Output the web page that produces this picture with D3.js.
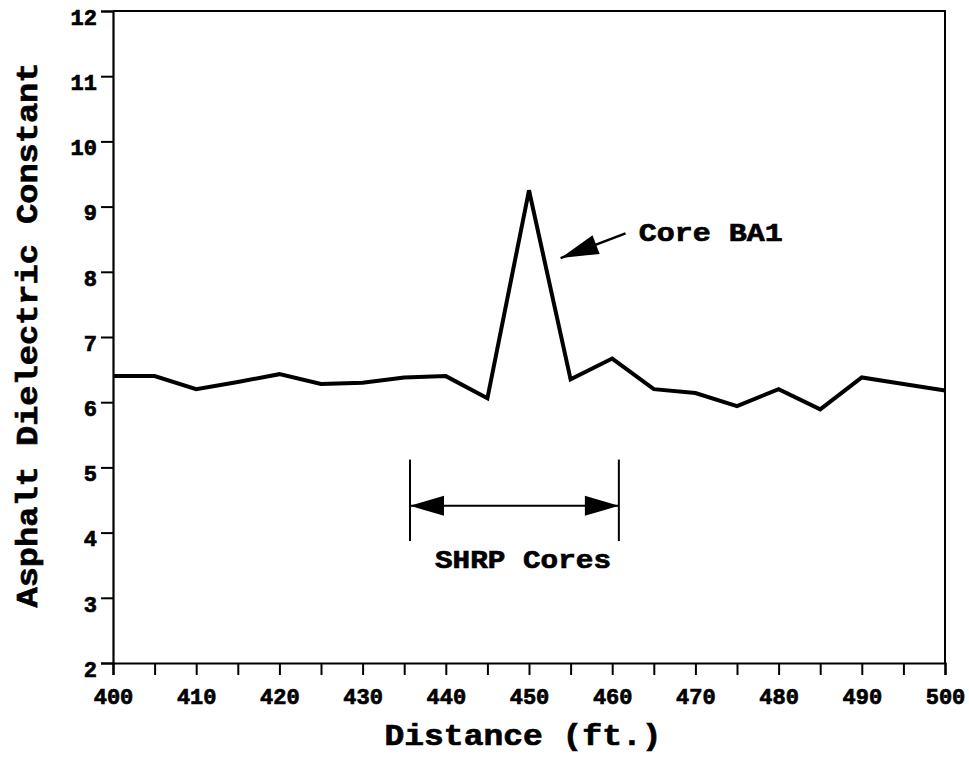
<!DOCTYPE html>
<html>
<head>
<meta charset="utf-8">
<script src="https://cdn.jsdelivr.net/npm/d3@7"></script>
<style>
  html, body { margin: 0; padding: 0; background: #fff; }
  svg { display: block; }
  text { font-family: "Liberation Mono", "DejaVu Sans Mono", monospace; font-weight: bold; fill: #000; stroke: #000; stroke-width: 0.7px; }
</style>
</head>
<body>
<svg id="chart" width="969" height="757"></svg>
<script>
// ---- data ----
const distances = [400, 405, 410, 415, 420, 425, 430, 435, 440, 445, 450, 455, 460, 465, 470, 475, 480, 485, 490, 495, 500];
const dielectric = [6.40, 6.40, 6.20, 6.31, 6.43, 6.28, 6.30, 6.38, 6.40, 6.06, 9.25, 6.35, 6.67, 6.20, 6.14, 5.94, 6.20, 5.89, 6.38, 6.28, 6.18];
const xTicks = [400, 410, 420, 430, 440, 450, 460, 470, 480, 490, 500];
const xMinorTicks = [405, 415, 425, 435, 445, 455, 465, 475, 485, 495];
const yTicks = [2, 3, 4, 5, 6, 7, 8, 9, 10, 11, 12];
const xTitle = "Distance (ft.)";
const yTitle = "Asphalt Dielectric Constant";
const coreLabel = "Core BA1";
const coreArrow = [[461.6, 8.59], [453.8, 8.21]];   // tail -> tip, data units
const coreLabelPos = [463.2, 8.48];
const shrpLabel = "SHRP Cores";
const shrpRange = [435.7, 460.8];
const shrpLevels = { top: 5.12, bottom: 3.87, arrow: 4.41, label: 3.46 };

// ---- layout ----
const svg = d3.select("#chart");
const x = d3.scaleLinear().domain([400, 500]).range([113, 945]);
const y = d3.scaleLinear().domain([2, 12]).range([663, 11]);

// frame (top and right)
svg.append("path")
  .attr("d", `M${x(400)},${y(12)}H${x(500)}V${y(2)}`)
  .attr("fill", "none").attr("stroke", "#000").attr("stroke-width", 2);

// x axis
const xAxis = svg.append("g").attr("transform", `translate(0,${y(2)})`)
  .call(d3.axisBottom(x).tickValues(d3.merge([xTicks, xMinorTicks]).sort(d3.ascending))
    .tickSize(12).tickPadding(9)
    .tickFormat(d => xTicks.includes(d) ? d : ""));
xAxis.select(".domain").attr("stroke-width", 2.2);
xAxis.selectAll(".tick line").attr("stroke-width", 2);
xAxis.selectAll(".tick text").style("font-size", "22px").attr("dy", "0.9em");

// y axis
const yAxis = svg.append("g").attr("transform", `translate(${x(400)},0)`)
  .call(d3.axisLeft(y).tickValues(yTicks).tickSize(12).tickPadding(4));
yAxis.select(".domain").attr("stroke-width", 2.2);
yAxis.selectAll(".tick line").attr("stroke-width", 2);
yAxis.selectAll(".tick text").style("font-size", "22px").attr("dy", "0.6em");

// titles
svg.append("text").attr("x", (x(400) + x(500)) / 2 - 6).attr("y", 745)
  .attr("text-anchor", "middle").style("font-size", "30px")
  .attr("textLength", 277).attr("lengthAdjust", "spacingAndGlyphs")
  .text(xTitle);
svg.append("text")
  .attr("transform", `translate(37,${(y(12) + y(2)) / 2 - 2}) rotate(-90)`)
  .attr("text-anchor", "middle").style("font-size", "30px")
  .attr("textLength", 545).attr("lengthAdjust", "spacingAndGlyphs")
  .text(yTitle);

// data line
const line = d3.line().x((d, i) => x(distances[i])).y(d => y(d));
svg.append("path").datum(dielectric)
  .attr("d", line)
  .attr("fill", "none").attr("stroke", "#000").attr("stroke-width", 4)
  .attr("stroke-linejoin", "miter");

// arrowhead helper
function arrowHead(tip, tail, len, half) {
  const dx = tip[0] - tail[0], dy = tip[1] - tail[1];
  const L = Math.hypot(dx, dy), ux = dx / L, uy = dy / L;
  const bx = tip[0] - ux * len, by = tip[1] - uy * len;
  return `M${tip[0]},${tip[1]}L${bx - uy * half},${by + ux * half}L${bx + uy * half},${by - ux * half}Z`;
}

// Core BA1 annotation
const tail = [x(coreArrow[0][0]), y(coreArrow[0][1])];
const tip = [x(coreArrow[1][0]), y(coreArrow[1][1])];
svg.append("line").attr("x1", tail[0]).attr("y1", tail[1]).attr("x2", tip[0]).attr("y2", tip[1])
  .attr("stroke", "#000").attr("stroke-width", 2.5);
svg.append("path").attr("d", arrowHead(tip, tail, 38, 10)).attr("fill", "#000");
svg.append("text").attr("x", x(coreLabelPos[0])).attr("y", y(coreLabelPos[1]))
  .style("font-size", "26px").attr("textLength", 144).attr("lengthAdjust", "spacingAndGlyphs")
  .text(coreLabel);

// SHRP Cores annotation
const sx0 = x(shrpRange[0]), sx1 = x(shrpRange[1]);
[sx0, sx1].forEach(sx => {
  svg.append("line").attr("x1", sx).attr("x2", sx)
    .attr("y1", y(shrpLevels.top)).attr("y2", y(shrpLevels.bottom))
    .attr("stroke", "#000").attr("stroke-width", 2);
});
const ay = y(shrpLevels.arrow);
svg.append("line").attr("x1", sx0).attr("x2", sx1).attr("y1", ay).attr("y2", ay)
  .attr("stroke", "#000").attr("stroke-width", 2);
svg.append("path").attr("d", arrowHead([sx0, ay], [sx1, ay], 34, 10)).attr("fill", "#000");
svg.append("path").attr("d", arrowHead([sx1, ay], [sx0, ay], 34, 10)).attr("fill", "#000");
svg.append("text").attr("x", 523).attr("y", y(shrpLevels.label))
  .attr("text-anchor", "middle").style("font-size", "26px")
  .attr("textLength", 176).attr("lengthAdjust", "spacingAndGlyphs")
  .text(shrpLabel);
</script>
</body>
</html>
